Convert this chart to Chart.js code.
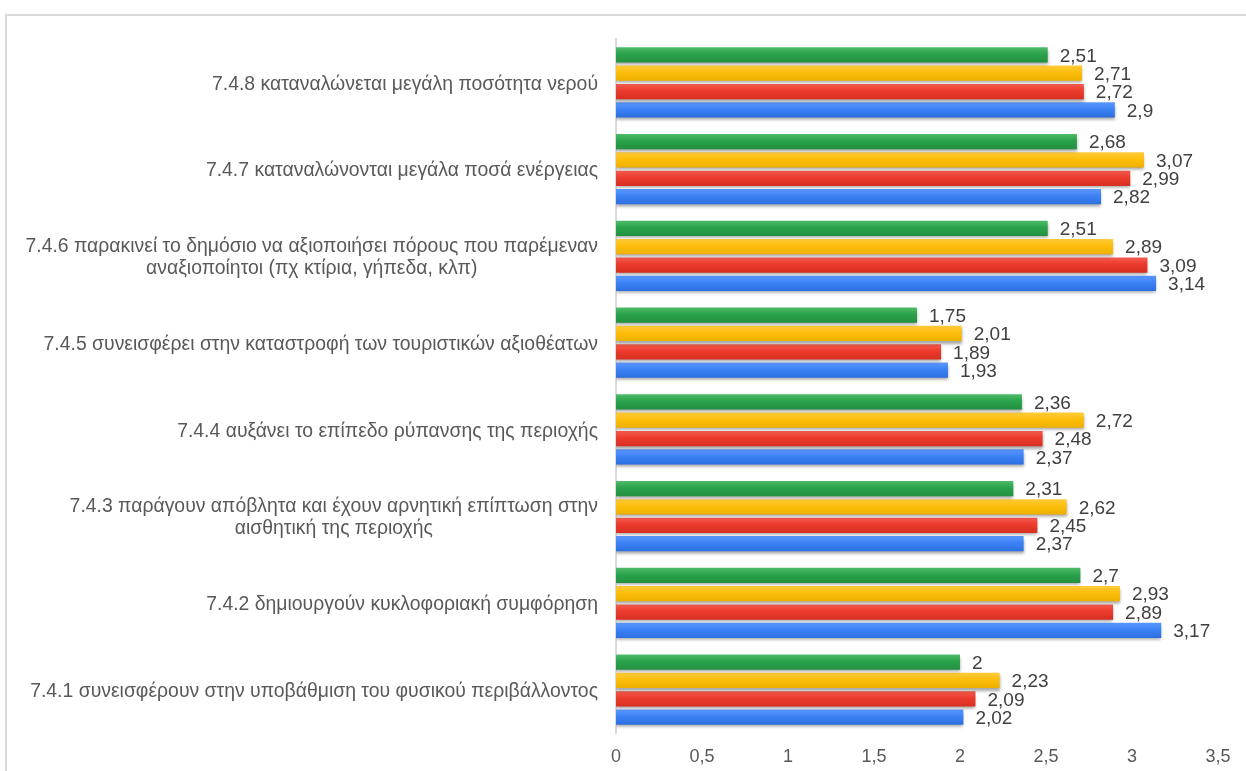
<!DOCTYPE html>
<html>
<head>
<meta charset="utf-8">
<script src="https://cdn.jsdelivr.net/npm/chart.js@4.4.0/dist/chart.umd.min.js"></script>
<style>
  html, body { margin: 0; padding: 0; background: #fff; overflow: hidden; }
  #wrap { position: relative; width: 1246px; height: 771px; }
  #frame { position: absolute; left: 5px; top: 14px; width: 1400px; height: 900px;
           border: 2px solid #d9d9d9; box-sizing: border-box; }
  canvas { position: absolute; left: 0; top: 0; }
</style>
</head>
<body>
<div id="wrap">
  <div id="frame"></div>
  <canvas id="chart" width="1246" height="771"></canvas>
</div>
<script>
// categories, top to bottom
const labels = [
    ["7.4.8 καταναλώνεται μεγάλη ποσότητα νερού"],
    ["7.4.7 καταναλώνονται μεγάλα ποσά ενέργειας"],
    ["7.4.6 παρακινεί το δημόσιο να αξιοποιήσει πόρους που παρέμεναν", "αναξιοποίητοι (πχ κτίρια, γήπεδα, κλπ)"],
    ["7.4.5 συνεισφέρει στην καταστροφή των τουριστικών αξιοθέατων"],
    ["7.4.4 αυξάνει το επίπεδο ρύπανσης της περιοχής"],
    ["7.4.3 παράγουν απόβλητα και έχουν αρνητική επίπτωση στην", "αισθητική της περιοχής"],
    ["7.4.2 δημιουργούν κυκλοφοριακή συμφόρηση"],
    ["7.4.1 συνεισφέρουν στην υποβάθμιση του φυσικού περιβάλλοντος"]
];

const greenVals  = [2.51, 2.68, 2.51, 1.75, 2.36, 2.31, 2.7, 2];
const yellowVals = [2.71, 3.07, 2.89, 2.01, 2.72, 2.62, 2.93, 2.23];
const redVals    = [2.72, 2.99, 3.09, 1.89, 2.48, 2.45, 2.89, 2.09];
const blueVals   = [2.9, 2.82, 3.14, 1.93, 2.37, 2.37, 3.17, 2.02];

const xTicks = [0, 0.5, 1, 1.5, 2, 2.5, 3, 3.5];

const shades = [
    ["#4fbb69", "#2aa24a", "#23903f"],
    ["#ffcb3a", "#fdbd0b", "#eeb000"],
    ["#f45b4f", "#ec3b2c", "#d72f22"],
    ["#5b98ff", "#3d82f5", "#2b6fe0"]
];

const comma = v => String(v).replace(".", ",");
const txtColor = "#595959";
const family = "'Liberation Sans', Arial, sans-serif";

// gradient fill + drop shadow for bars, value labels after
const barLook = {
    id: "barLook",
    beforeDatasetsDraw(chart) {
        const ctx = chart.ctx;
        chart.data.datasets.forEach((ds, i) => {
            chart.getDatasetMeta(i).data.forEach(el => {
                const top = el.y - el.height / 2, bot = el.y + el.height / 2;
                const g = ctx.createLinearGradient(0, top, 0, bot);
                g.addColorStop(0, shades[i][0]);
                g.addColorStop(0.45, shades[i][1]);
                g.addColorStop(1, shades[i][2]);
                el.options = Object.assign({}, el.options, {backgroundColor: g});
            });
        });
        ctx.save();
        ctx.shadowColor = "rgba(0,0,0,0.35)";
        ctx.shadowOffsetY = 2.5;
        ctx.shadowBlur = 3;
    },
    afterDatasetsDraw(chart) {
        const ctx = chart.ctx;
        ctx.restore();
        ctx.save();
        ctx.font = "19px " + family;
        ctx.fillStyle = "#404040";
        ctx.textAlign = "left";
        ctx.textBaseline = "middle";
        chart.data.datasets.forEach((ds, i) => {
            chart.getDatasetMeta(i).data.forEach((el, j) => {
                ctx.fillText(comma(ds.data[j]), el.x + 12, el.y + 1.5);
            });
        });
        ctx.restore();
    }
};

// category labels: block right-aligned to axis, lines centered in block
const catLabels = {
    id: "catLabels",
    afterDraw(chart) {
        const ctx = chart.ctx;
        const y = chart.scales.y;
        ctx.save();
        ctx.font = "19.4px " + family;
        ctx.fillStyle = txtColor;
        ctx.textAlign = "center";
        ctx.textBaseline = "middle";
        const right = y.right - 18;
        const lh = 22;
        labels.forEach((lines, i) => {
            const cy = y.getPixelForTick(i) + 2;
            const w = Math.max(...lines.map(s => ctx.measureText(s).width));
            const cx = right - w / 2;
            lines.forEach((s, k) => {
                ctx.fillText(s, cx, cy + (k - (lines.length - 1) / 2) * lh);
            });
        });
        ctx.restore();
    }
};

new Chart(document.getElementById("chart"), {
    type: "bar",
    data: {
        labels: labels,
        datasets: [
            {data: greenVals, backgroundColor: shades[0][1]},
            {data: yellowVals, backgroundColor: shades[1][1]},
            {data: redVals, backgroundColor: shades[2][1]},
            {data: blueVals, backgroundColor: shades[3][1]}
        ]
    },
    options: {
        indexAxis: "y",
        responsive: false,
        animation: false,
        categoryPercentage: 0.845,
        barPercentage: 0.83,
        layout: {padding: {top: 39, right: 28, bottom: 0, left: 0}},
        plugins: {legend: {display: false}, tooltip: {enabled: false}},
        scales: {
            x: {
                min: 0, max: 3.5,
                afterBuildTicks: s => { s.ticks = xTicks.map(v => ({value: v})); },
                afterFit: s => { s.height = 38; },
                grid: {display: false, drawTicks: false},
                border: {display: false},
                ticks: {
                    padding: 13,
                    color: txtColor,
                    maxRotation: 0,
                    font: {family: family, size: 18},
                    callback: v => comma(v)
                }
            },
            y: {
                afterFit: s => { s.width = 616; },
                grid: {display: false, drawTicks: false},
                border: {display: true, color: "#d9d9d9", width: 2},
                ticks: {display: false}
            }
        }
    },
    plugins: [barLook, catLabels]
});
</script>
</body>
</html>
